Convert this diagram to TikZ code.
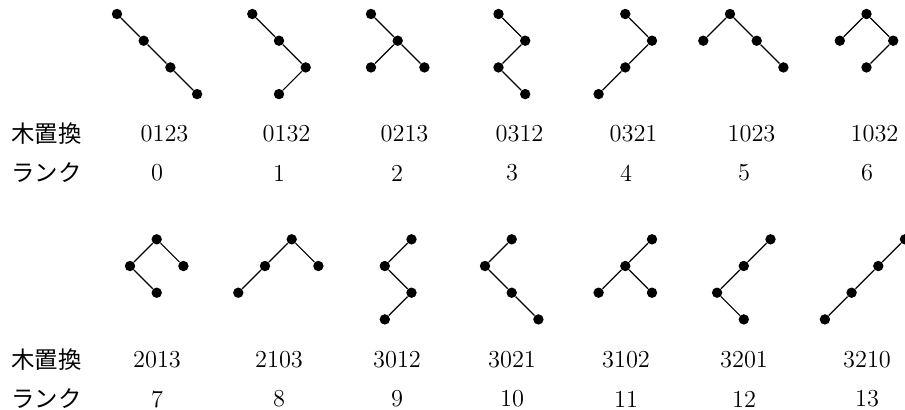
\documentclass[tikz,border=0pt]{standalone}
\usepackage{fontspec}
\newfontfamily\jpfont{Noto Sans CJK JP}
\begin{document}
\begin{tikzpicture}[x=0.5pt,y=-0.5pt,
  vtx/.style={circle,fill,inner sep=0pt,minimum size=5.2pt},
  num/.style={font=\fontsize{12.2}{14}\selectfont},
  jp/.style={font=\jpfont\fontsize{11.7}{14}\selectfont,anchor=west,inner sep=0pt}]
\useasboundingbox (0,0) rectangle (905,409);
\foreach \t/\rx/\ry/\bx/\cx/\cy/\dx/\dy/\pc/\pd in {
  0/117/14/1/2/2/3/3/b/c, 1/252.3/14/1/2/2/1/3/b/c,
  2/371/14/1/0/2/2/2/b/b, 3/498.5/14/1/0/2/1/3/b/c,
  4/625.3/14/1/0/2/-1/3/b/c, 5/730/14/-1/1/1/2/2/a/c,
  6/866.5/14/-1/1/1/0/2/a/c,
  7/156.7/239.3/-1/1/1/0/2/a/b, 8/291.7/239.3/-1/1/1/-2/2/a/b,
  9/411.5/239.3/-1/0/2/-1/3/b/c, 10/511.7/239.3/-1/0/2/1/3/b/c,
  11/652/239.3/-1/-2/2/0/2/b/b, 12/770.5/239.3/-1/-2/2/-1/3/b/c,
  13/905/239.3/-1/-2/2/-3/3/b/c}
{
  \node[vtx] (t\t-a) at (\rx,\ry) {};
  \node[vtx] (t\t-b) at ({\rx+(\bx)*26.7},{\ry+26.7}) {};
  \node[vtx] (t\t-c) at ({\rx+(\cx)*26.7},{\ry+(\cy)*26.7}) {};
  \node[vtx] (t\t-d) at ({\rx+(\dx)*26.7},{\ry+(\dy)*26.7}) {};
  \draw[line width=0.6pt] (t\t-a) -- (t\t-b) (t\t-\pc) -- (t\t-c) (t\t-\pd) -- (t\t-d);
}
\foreach \x/\p/\r [count=\i from 0] in {157/0123/0, 279/0132/1, 397/0213/2,
  512/0312/3, 626/0321/4, 744/1023/5, 867/1032/6}
{
  \node[num] (p\i) at (\x+7.5,133.5) {\p};
  \node[num] (r\i) at (\x,173) {\r};
}
\foreach \x/\p/\r [count=\i from 7] in {157/2013/7, 279/2103/8, 397/3012/9,
  512/3021/10, 626/3102/11, 744/3201/12, 867/3210/13}
{
  \node[num] (p\i) at (\x,359.5) {\p};
  \node[num] (r\i) at (\x,399) {\r};
}
\node[jp] (perm1) at (11,133.5) {木置換};
\node[jp] (rank1) at (11,173) {ランク};
\node[jp] (perm2) at (11,359.5) {木置換};
\node[jp] (rank2) at (11,399) {ランク};
\end{tikzpicture}
\end{document}
